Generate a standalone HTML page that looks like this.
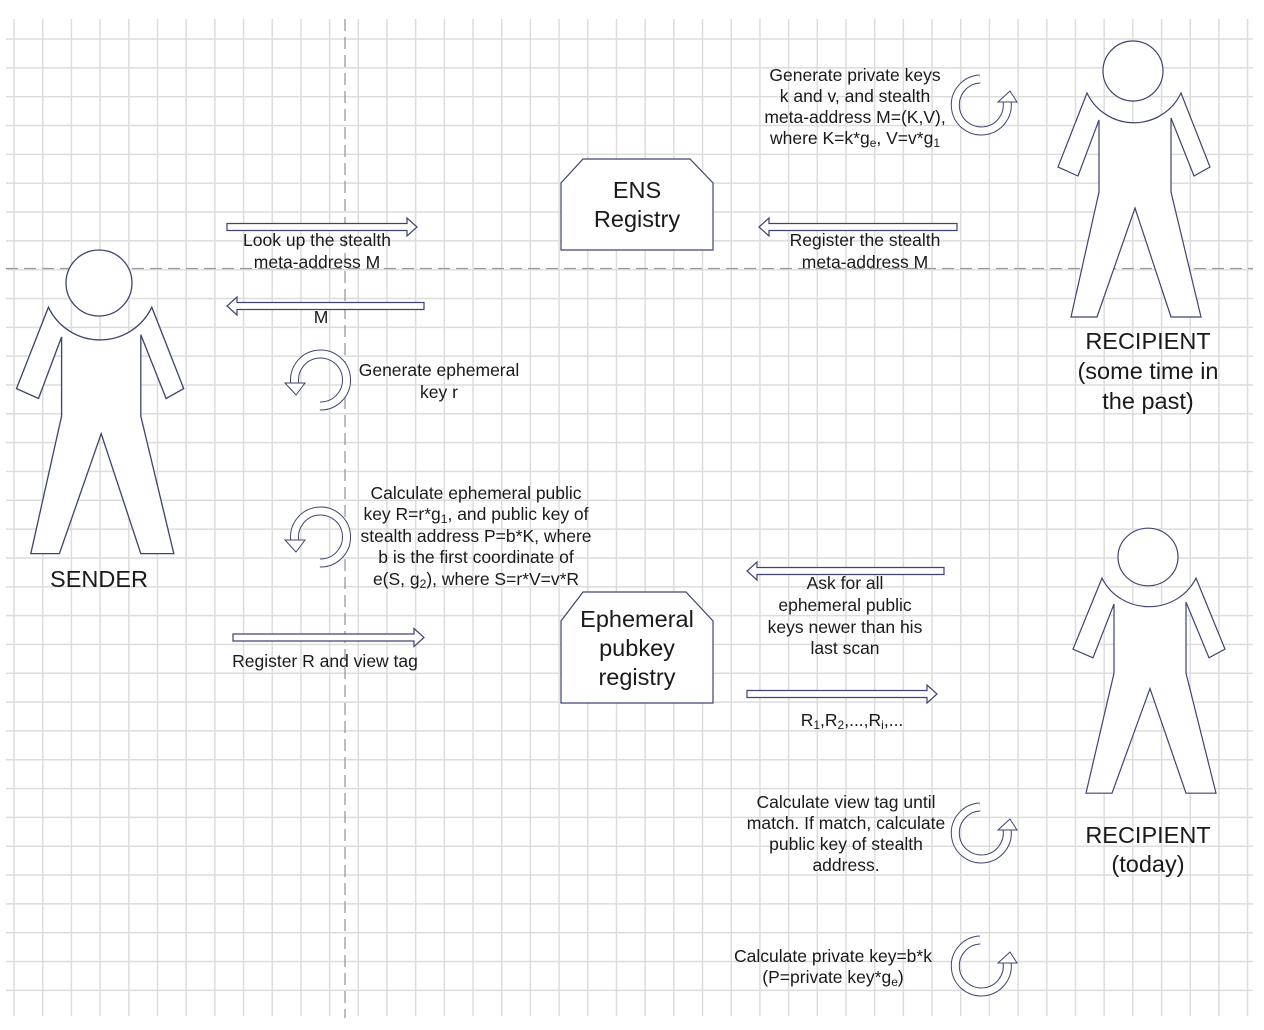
<!DOCTYPE html>
<html><head><meta charset="utf-8"><style>
body{margin:0;background:#fff;width:1264px;height:1030px;overflow:hidden;position:relative;font-family:"Liberation Sans",sans-serif;}
.grid{position:absolute;left:6px;top:19px;width:1247px;height:997px;
background-image:linear-gradient(to right,#dcdcdc 0,#dcdcdc 1.5px,transparent 1.5px),linear-gradient(to bottom,#dcdcdc 0,#dcdcdc 1.5px,transparent 1.5px);
background-size:28.7px 100%,100% 28.84px;background-position:7.3px 0,0 19.3px;}
svg{position:absolute;left:0;top:0}
text{font-family:"Liberation Sans",sans-serif;fill:#1a1a1a;text-anchor:middle}
.s{font-size:17.5px}.b{font-size:23.5px}
</style></head><body>
<div class="grid"></div>
<svg width="1264" height="1030" viewBox="0 0 1264 1030">
<defs>
<path id="fig" d="M-46,22 L-75,96 L-55,105 L-34,49 L-34,121 L-62,246 L-36,246 L2,137 L38,246 L68,246 L38,121 L38,47 L61,105 L77,96 L48,22 A52,52 0 0 1 -46,22 Z"/>
<g id="la">
<path d="M320,406 A26,26 0 1 0 295,385" stroke="#3e4470" stroke-width="9" fill="none"/>
<path d="M320,406 A26,26 0 1 0 295,385" stroke="#fff" stroke-width="7" fill="none"/>
<polygon points="285,383 305,383 296,395" fill="#fff" stroke="#3e4470" stroke-width="1"/>
</g>
<g id="ra">
<path d="M-2,-26 A26,26 0 1 0 25,-4" stroke="#3e4470" stroke-width="9" fill="none"/>
<path d="M-2,-26 A26,26 0 1 0 25,-4" stroke="#fff" stroke-width="7" fill="none"/>
<polygon points="16,-3 35,-3 28,-14" fill="#fff" stroke="#3e4470" stroke-width="1"/>
</g>
</defs>
<line x1="345" y1="19" x2="345" y2="1018" stroke="#9a9a9a" stroke-width="1.3" stroke-dasharray="12,6"/>
<line x1="6" y1="268.5" x2="1253" y2="268.5" stroke="#9a9a9a" stroke-width="1.3" stroke-dasharray="12,6"/>
<g fill="#fff" stroke="#3e4470" stroke-width="1.2">
<g transform="translate(99,283) scale(1.1)"><use href="#fig"/><circle cx="0" cy="0" r="30"/></g>
<g transform="translate(1133,71)"><use href="#fig"/><circle cx="0" cy="0" r="30"/></g>
<g transform="translate(1148,557) scale(1,0.96)"><use href="#fig"/><circle cx="0" cy="0" r="30"/></g>
<polygon points="583,159 690,159 713,183 713,250 561,250 561,183"/>
<polygon points="583,592 686,592 713,621 713,703 561,703 561,621"/>
<polygon points="227,223.5 407,223.5 407,218 417,227 407,236 407,230.5 227,230.5"/>
<polygon points="424,302.5 237,302.5 237,297 227,306 237,315 237,309.5 424,309.5"/>
<polygon points="957,223.5 769,223.5 769,218 759,227 769,236 769,230.5 957,230.5"/>
<polygon points="233,634 414,634 414,628.5 424,637.5 414,646.5 414,641 233,641"/>
<polygon points="944,567.5 757,567.5 757,562 747,571 757,580 757,574.5 944,574.5"/>
<polygon points="747,690.5 927,690.5 927,685 937,694 927,703 927,697.5 747,697.5"/>
</g>
<use href="#la"/>
<use href="#la" transform="translate(0,157)"/>
<use href="#ra" transform="translate(982,105)"/>
<use href="#ra" transform="translate(982,833)"/>
<use href="#ra" transform="translate(982,966)"/>
<g class="s">
<text x="317" y="246">Look up the stealth</text>
<text x="317" y="268">meta-address M</text>
<text x="321" y="323">M</text>
<text x="439" y="376">Generate ephemeral</text>
<text x="439" y="398">key r</text>
<text x="476" y="499">Calculate ephemeral public</text>
<text x="476" y="520">key R=r*g<tspan font-size="12" dy="3">1</tspan><tspan dy="-3">, and public key of</tspan></text>
<text x="476" y="542">stealth address P=b*K, where</text>
<text x="476" y="563">b is the first coordinate of</text>
<text x="476" y="585">e(S, g<tspan font-size="12" dy="3">2</tspan><tspan dy="-3">), where S=r*V=v*R</tspan></text>
<text x="325" y="667">Register R and view tag</text>
<text x="855" y="81">Generate private keys</text>
<text x="855" y="102">k and v, and stealth</text>
<text x="855" y="123">meta-address M=(K,V),</text>
<text x="855" y="144">where K=k*g<tspan font-size="12" dy="3">e</tspan><tspan dy="-3">, V=v*g</tspan><tspan font-size="12" dy="3">1</tspan></text>
<text x="865" y="246">Register the stealth</text>
<text x="865" y="268">meta-address M</text>
<text x="845" y="589">Ask for all</text>
<text x="845" y="611">ephemeral public</text>
<text x="845" y="633">keys newer than his</text>
<text x="845" y="654">last scan</text>
<text x="852" y="726">R<tspan font-size="12" dy="3">1</tspan><tspan dy="-3">,R</tspan><tspan font-size="12" dy="3">2</tspan><tspan dy="-3">,...,R</tspan><tspan font-size="12" dy="3">i</tspan><tspan dy="-3">,...</tspan></text>
<text x="846" y="808">Calculate view tag until</text>
<text x="846" y="829">match. If match, calculate</text>
<text x="846" y="850">public key of stealth</text>
<text x="846" y="871">address.</text>
<text x="833" y="962">Calculate private key=b*k</text>
<text x="833" y="983">(P=private key*g<tspan font-size="12" dy="3">e</tspan><tspan dy="-3">)</tspan></text>
</g>
<g class="b">
<text x="637" y="198">ENS</text>
<text x="637" y="227">Registry</text>
<text x="637" y="627">Ephemeral</text>
<text x="637" y="656">pubkey</text>
<text x="637" y="685">registry</text>
<text x="99" y="587">SENDER</text>
<text x="1148" y="349">RECIPIENT</text>
<text x="1148" y="379">(some time in</text>
<text x="1148" y="409">the past)</text>
<text x="1148" y="843">RECIPIENT</text>
<text x="1148" y="872">(today)</text>
</g>
</svg>
</body></html>
